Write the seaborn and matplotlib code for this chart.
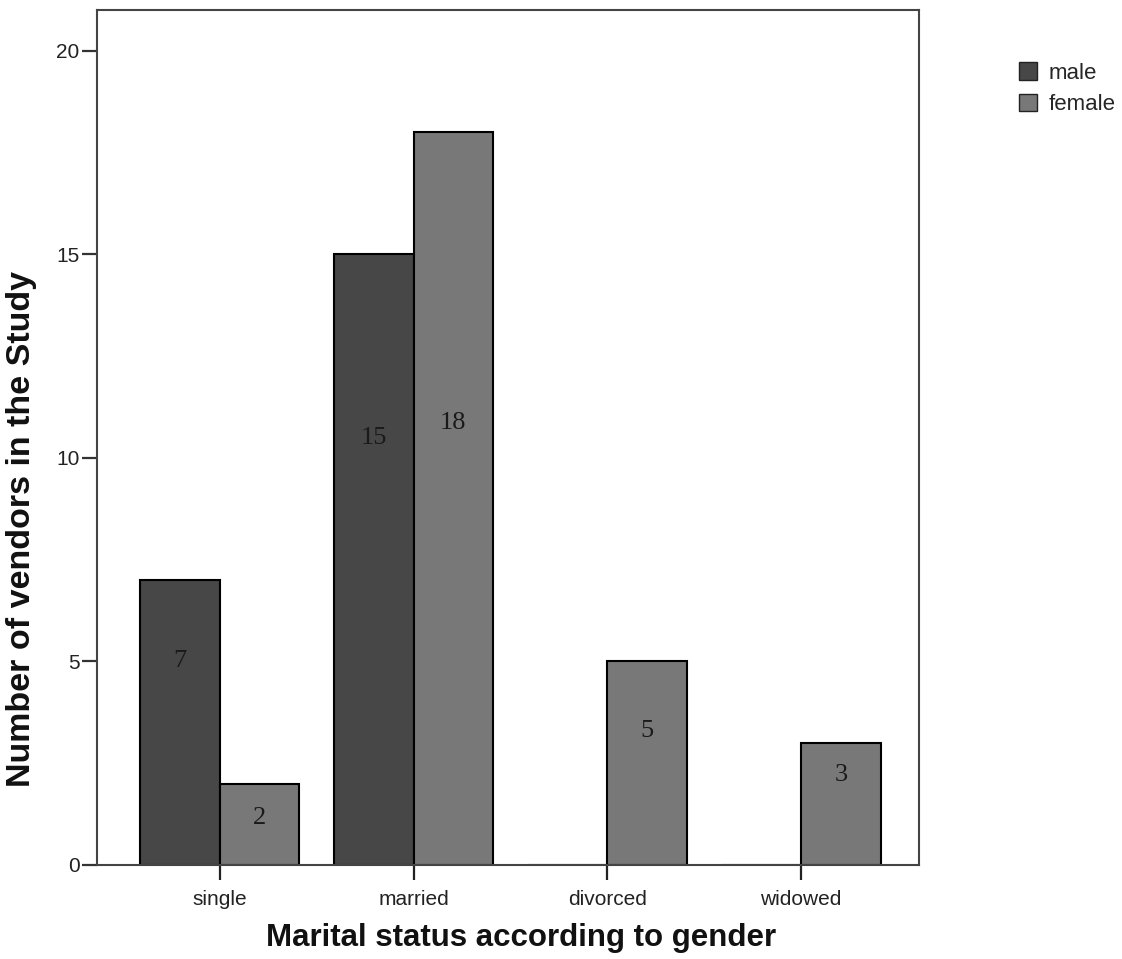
import matplotlib
matplotlib.use("Agg")
import matplotlib.pyplot as plt
import seaborn as sns
import pandas as pd
from matplotlib.patches import Patch

categories = ["single", "married", "divorced", "widowed"]
genders = ["male", "female"]
male_counts = [7, 15, 0, 0]
female_counts = [2, 18, 5, 3]

# label placement heights (styling), in data units
male_label_y = [5.0, 10.5, None, None]
female_label_y = [1.15, 10.85, 3.3, 2.2]

df = pd.DataFrame({
    "status": categories * 2,
    "gender": ["male"] * 4 + ["female"] * 4,
    "count": male_counts + female_counts,
})

sns.set_theme(style="white")
plt.rcParams["font.family"] = ["Liberation Sans", "DejaVu Sans"]

fig = plt.figure(figsize=(11.22, 9.59), dpi=100)
ax = fig.add_axes([97/1122, 1 - 865/959, (919-97)/1122, (865-10)/959])

palette = {"male": "#474747", "female": "#787878"}
sns.barplot(data=df, x="status", y="count", hue="gender", order=categories,
            hue_order=genders, palette=palette, width=0.82, edgecolor="black",
            linewidth=1.5, saturation=1, legend=False, ax=ax)

ax.set_ylim(0, 21)
ax.set_xlim(-0.634, 3.608)
ax.set_yticks([0, 5, 10, 15, 20])
ax.tick_params(axis="y", left=True, length=11, width=1.6, color="#333333",
               labelsize=15, pad=1.5, labelcolor="#222222")
ax.tick_params(axis="x", bottom=True, length=11, width=1.6, color="#222222",
               labelsize=15, pad=7, labelcolor="#222222")
for s in ax.spines.values():
    s.set_visible(True)
    s.set_color("#444444")
    s.set_linewidth(1.5)

ax.set_xlabel("Marital status according to gender", fontsize=22.5,
              fontweight="bold", color="#111111")
ax.xaxis.set_label_coords(0.516, -0.068)
ax.set_ylabel("Number of vendors in the Study", fontsize=24.5,
              fontweight="bold", color="#111111")
ax.yaxis.set_label_coords(-0.073, 0.393)

# value labels
off = 0.82 / 4
for i, cat in enumerate(categories):
    if male_counts[i] > 0:
        ax.text(i - off, male_label_y[i], str(male_counts[i]), ha="center",
                va="center", fontsize=19, family="Liberation Serif", color="#1a1a1a")
    if female_counts[i] > 0:
        ax.text(i + off, female_label_y[i], str(female_counts[i]), ha="center",
                va="center", fontsize=19, family="Liberation Serif", color="#1a1a1a")

handles = [Patch(facecolor=palette[g], edgecolor="#222222", label=g) for g in genders]
fig.legend(handles=handles, loc="upper left", bbox_to_anchor=(0.890, 0.956),
           frameon=False, fontsize=16, handlelength=0.85, handleheight=0.85,
           handletextpad=0.5, labelspacing=0.45)

fig.savefig("out.png", dpi=100, facecolor="white")
